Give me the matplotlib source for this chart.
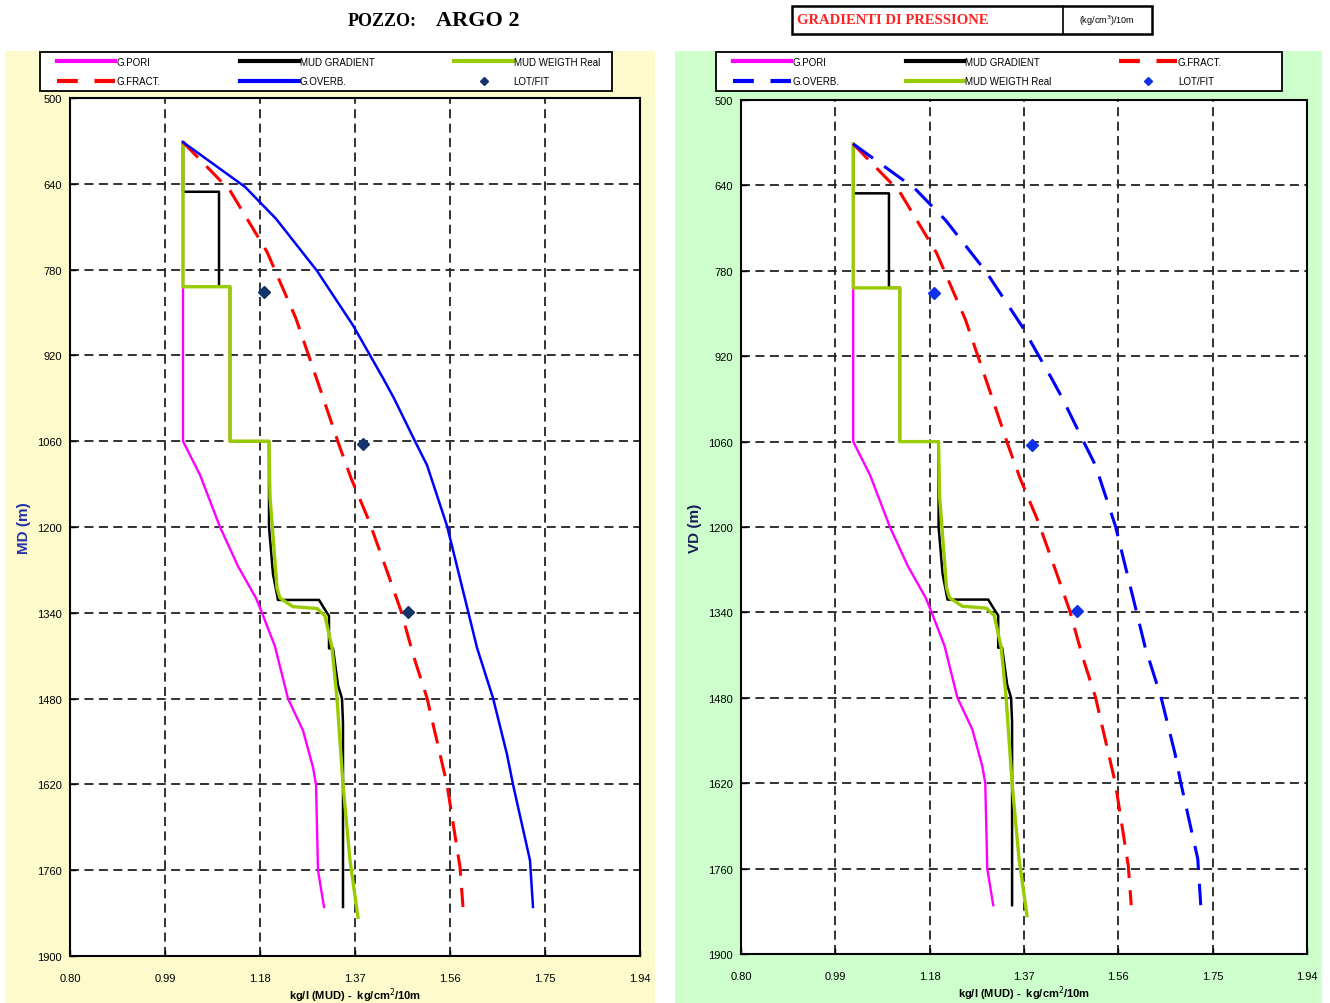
import matplotlib
matplotlib.use("Agg")
import matplotlib.pyplot as plt
from matplotlib.lines import Line2D
from matplotlib.patches import Rectangle
import numpy as np

plt.rcParams['font.family'] = ['Liberation Sans', 'DejaVu Sans']

# ---- data (depth in m, gradient in kg/l) ----
pori_depth = [572, 1060, 1115, 1200, 1264, 1316, 1340, 1395, 1480, 1532, 1592, 1620, 1760, 1820]
pori_grad = [1.026, 1.026, 1.06, 1.10, 1.136, 1.172, 1.184, 1.21, 1.236, 1.266, 1.286, 1.292, 1.296, 1.308]

mudw_depth = [572, 808, 808, 1060, 1060, 1150, 1300, 1316, 1330, 1333, 1345, 1397, 1480, 1620, 1744, 1837]
mudw_grad = [1.026, 1.026, 1.12, 1.12, 1.198, 1.20, 1.214, 1.22, 1.246, 1.294, 1.31, 1.324, 1.334, 1.346, 1.36, 1.376]

mudg_depth = [572, 653, 653, 808, 808, 1060, 1060, 1200, 1277, 1319, 1319, 1335, 1345, 1398, 1398, 1458, 1480, 1520, 1820]
mudg_grad = [1.026, 1.026, 1.098, 1.098, 1.12, 1.12, 1.198, 1.198, 1.206, 1.216, 1.298, 1.31, 1.318, 1.318, 1.326, 1.336, 1.344, 1.346, 1.346]

fract_depth = [572, 651, 751, 860, 979, 1066, 1120, 1190, 1272, 1337, 1413, 1479, 1620, 1755, 1820]
fract_grad = [1.026, 1.12, 1.194, 1.252, 1.302, 1.338, 1.362, 1.398, 1.434, 1.462, 1.488, 1.514, 1.554, 1.58, 1.586]

overb_depth = [572, 645, 697, 782, 871, 957, 990, 1060, 1099, 1198, 1337, 1397, 1479, 1571, 1620, 1744, 1820]
overb_grad = [1.026, 1.15, 1.212, 1.294, 1.366, 1.426, 1.448, 1.49, 1.514, 1.554, 1.596, 1.614, 1.646, 1.674, 1.686, 1.72, 1.726]

lot_depth = [816, 1065, 1338]
lot_grad = [1.188, 1.386, 1.476]

x_ticks = [0.80, 0.99, 1.18, 1.37, 1.56, 1.75, 1.94]
y_ticks = [500, 640, 780, 920, 1060, 1200, 1340, 1480, 1620, 1760, 1900]

PINK = '#ff00ff'
GREEN = '#99cc00'
RED = '#ff0000'
BLUE = '#0000ff'


def draw_panel(ax, ylabel, ylabel_color, overb_dashed, lot_color):
    ax.plot(pori_grad, pori_depth, color=PINK, lw=1.7)
    ax.plot(mudg_grad, mudg_depth, color='black', lw=1.8)
    ax.plot(mudw_grad, mudw_depth, color=GREEN, lw=2.4)
    ax.plot(fract_grad, fract_depth, color=RED, lw=2.2, dashes=(7, 4))
    if overb_dashed:
        ax.plot(overb_grad, overb_depth, color=BLUE, lw=2.2, dashes=(8, 4.5))
    else:
        ax.plot(overb_grad, overb_depth, color=BLUE, lw=1.8)
    ax.plot(lot_grad, lot_depth, 'D', color=lot_color, ms=6, zorder=5)

    ax.set_xlim(0.80, 1.94)
    ax.set_ylim(1900, 500)
    ax.set_xticks(x_ticks)
    ax.set_xticklabels(['%.2f' % v for v in x_ticks])
    ax.set_yticks(y_ticks)
    ax.tick_params(labelsize=8, length=4, direction='in', width=1)
    ax.tick_params(axis='x', pad=12)
    ax.tick_params(axis='y', pad=6)
    ax.grid(True, color='#222222', lw=1.3, dashes=(5, 3))
    for s in ax.spines.values():
        s.set_linewidth(1.5)
    ax.set_facecolor('white')
    ax.set_xlabel('kg/l (MUD) -  kg/cm$^2$/10m', fontsize=8, fontweight='bold', labelpad=2)
    ax.set_ylabel(ylabel, fontsize=11, fontweight='bold', color=ylabel_color, labelpad=4)


def handles_for(overb_dashed, lot_color):
    h = {
        'G.PORI': Line2D([], [], color=PINK, lw=3),
        'MUD GRADIENT': Line2D([], [], color='black', lw=3),
        'MUD WEIGTH Real': Line2D([], [], color=GREEN, lw=3),
        'G.FRACT.': Line2D([], [], color=RED, lw=3, dashes=(5, 4)),
        'G.OVERB.': Line2D([], [], color=BLUE, lw=3, dashes=(5, 4)) if overb_dashed
        else Line2D([], [], color=BLUE, lw=3),
        'LOT/FIT': Line2D([], [], color=lot_color, marker='D', ls='none', ms=4),
    }
    return h


def legend_box(handles, labels, box, inner):
    # box: frame (x0, x1) in px; inner: (x0, x1) px spanned by the entries
    fig.patches.append(Rectangle((box[0] / 1330, 1 - 92 / 1004), (box[1] - box[0]) / 1330, 39 / 1004,
                                 transform=fig.transFigure, facecolor='white',
                                 edgecolor='black', lw=1.3, zorder=1))
    leg = fig.legend(handles, labels, ncol=3, mode='expand',
                     bbox_to_anchor=(inner[0] / 1330, 1 - 92 / 1004, (inner[1] - inner[0]) / 1330, 39 / 1004),
                     loc='center', fontsize=7, handlelength=6, handletextpad=0.1,
                     frameon=False, borderpad=0.0, borderaxespad=0.0, labelspacing=0.95)
    leg.set_zorder(2)
    return leg


fig = plt.figure(figsize=(13.3, 10.04), dpi=100)

# panel backgrounds
fig.patches.append(Rectangle((5 / 1330, 0), 650 / 1330, 952 / 1004,
                             transform=fig.transFigure, facecolor='#fdfbcc', edgecolor='none', zorder=-5))
fig.patches.append(Rectangle((675 / 1330, 0), 647 / 1330, 952 / 1004,
                             transform=fig.transFigure, facecolor='#ccffcc', edgecolor='none', zorder=-5))

ax1 = fig.add_axes([70 / 1330, 47 / 1004, 570 / 1330, 858 / 1004])
ax2 = fig.add_axes([741 / 1330, 49 / 1004, 566 / 1330, 854 / 1004])

draw_panel(ax1, 'MD (m)', '#2233aa', False, '#14336b')
draw_panel(ax2, 'VD (m)', '#1a1f55', True, '#1030e8')

# legends
h1 = handles_for(False, '#14336b')
order1 = ['G.PORI', 'G.FRACT.', 'MUD GRADIENT', 'G.OVERB.', 'MUD WEIGTH Real', 'LOT/FIT']
legend_box([h1[k] for k in order1], order1, (40, 612), (57, 600))

h2 = handles_for(True, '#1030e8')
order2 = ['G.PORI', 'G.OVERB.', 'MUD GRADIENT', 'MUD WEIGTH Real', 'G.FRACT.', 'LOT/FIT']
legend_box([h2[k] for k in order2], order2, (716, 1282), (733, 1222))

# titles
fig.text(382 / 1330, 1 - 21 / 1004, 'POZZO:', fontsize=13, fontweight='bold',
         family='Liberation Serif', ha='center', va='center')
fig.text(478 / 1330, 1 - 21 / 1004, 'ARGO 2', fontsize=16, fontweight='bold',
         family='Liberation Serif', ha='center', va='center')

fig.patches.append(Rectangle((792 / 1330, 1 - 35 / 1004), 360 / 1330, 28 / 1004,
                             transform=fig.transFigure, facecolor='white', edgecolor='black', lw=1.8))
fig.add_artist(Line2D([1063 / 1330, 1063 / 1330], [1 - 35 / 1004, 1 - 7 / 1004],
                      transform=fig.transFigure, color='black', lw=1.2))
fig.text(797 / 1330, 1 - 21 / 1004, 'GRADIENTI DI PRESSIONE', fontsize=10.5, fontweight='bold',
         family='Liberation Serif', color='#ff2222', ha='left', va='center')
fig.text(1107 / 1330, 1 - 21 / 1004, '(kg/cm$^3$)/10m', fontsize=6.5,
         ha='center', va='center')

fig.savefig('out.png', dpi=100)
